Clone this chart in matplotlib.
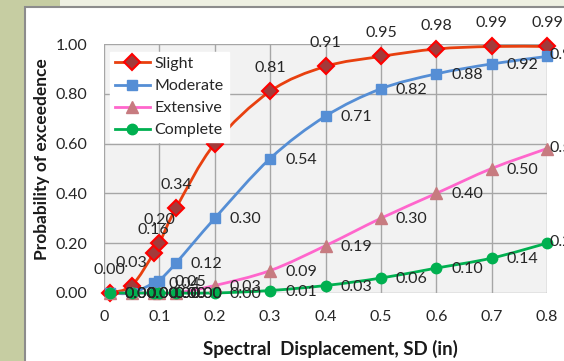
"""Fragility curves: probability of exceedence vs spectral displacement."""
import numpy as np
import matplotlib
matplotlib.use("Agg")
import matplotlib.pyplot as plt
from matplotlib.path import Path
from matplotlib.patches import PathPatch, Rectangle
from matplotlib.lines import Line2D

plt.rcParams['font.family'] = ['Lato', 'DejaVu Sans']

sd = [0.01, 0.05, 0.09, 0.10, 0.13, 0.20, 0.30, 0.40, 0.50, 0.60, 0.70, 0.80]
slight = [0.00, 0.03, 0.16, 0.20, 0.34, 0.60, 0.81, 0.91, 0.95, 0.98, 0.99, 0.99]
moderate = [0.00, 0.00, 0.04, 0.05, 0.12, 0.30, 0.54, 0.71, 0.82, 0.88, 0.92, 0.95]
extensive = [0.00, 0.00, 0.00, 0.00, 0.00, 0.03, 0.09, 0.19, 0.30, 0.40, 0.50, 0.58]
complete = [0.00, 0.00, 0.00, 0.00, 0.00, 0.00, 0.01, 0.03, 0.06, 0.10, 0.14, 0.20]

x_ticks = [0, 0.1, 0.2, 0.3, 0.4, 0.5, 0.6, 0.7, 0.8]
x_tick_labels = ['0', '0.1', '0.2', '0.3', '0.4', '0.5', '0.6', '0.7', '0.8']
y_ticks = [0, 0.2, 0.4, 0.6, 0.8, 1.0]


def smooth_path(x, y):
    # Excel-style smoothed line: Catmull-Rom segments as cubic Beziers
    p = np.column_stack([x, y])
    ext = np.vstack([p[0], p, p[-1]])
    verts = [p[0]]
    codes = [Path.MOVETO]
    for i in range(len(p) - 1):
        p0, p1, p2, p3 = ext[i], ext[i + 1], ext[i + 2], ext[i + 3]
        verts += [p1 + (p2 - p0) / 6, p2 - (p3 - p1) / 6, p2]
        codes += [Path.CURVE4] * 3
    return Path(verts, codes)


fig = plt.figure(figsize=(5.64, 3.61), dpi=100)
fig.patch.set_facecolor('#C6CDA2')
# pale strip along the top, then the white chart area with grey frame
fig.patches.append(Rectangle((60 / 564, 1 - 7 / 361), 1.0, 7 / 361,
                             transform=fig.transFigure, facecolor='#EEF0E2',
                             edgecolor='none', zorder=-2))
fig.patches.append(Rectangle((25 / 564, -0.1), 1.0, 1 - 7 / 361 + 0.1,
                             transform=fig.transFigure, facecolor='white',
                             edgecolor='#8C8C8C', linewidth=1.5, zorder=-1))

ax = fig.add_axes([104 / 564, 1 - 293 / 361, 443 / 564, 249 / 361])
ax.set_zorder(1)
ax.set_facecolor('#F2F2F2')
ax.set_xlim(0, 0.8)
ax.set_ylim(0, 1.0)
ax.set_xticks(x_ticks)
ax.set_xticklabels(x_tick_labels)
ax.set_yticks(y_ticks)
ax.set_yticklabels([f'{v:.2f}' for v in y_ticks])
ax.grid(True, color='#A6A6A6', linewidth=1.0)
ax.set_axisbelow(True)
for s in ax.spines.values():
    s.set_visible(False)
ax.tick_params(length=0, labelsize=11.5, colors='#262626', pad=12)

series = [
    ('Slight', slight, '#E8400F', dict(marker='D', ms=8, mfc='#A23B3B', mec='#FF0000', mew=1.5)),
    ('Moderate', moderate, '#558ED5', dict(marker='s', ms=6.5, mfc='#558ED5', mec='#558ED5')),
    ('Extensive', extensive, '#FF66CC', dict(marker='^', ms=9, mfc='#C77B80', mec='#C77B80')),
    ('Complete', complete, '#00B050', dict(marker='o', ms=7.5, mfc='#00B050', mec='#00B050')),
]

handles = []
for name, vals, col, mk in series:
    ax.add_patch(PathPatch(smooth_path(sd, vals), facecolor='none', edgecolor=col,
                           linewidth=2.0, zorder=3, clip_on=False))
    ax.plot(sd, vals, linestyle='none', zorder=4, clip_on=False, **mk)
    handles.append(Line2D([], [], color=col, linewidth=2.0, **mk))

# data labels (the last ones are pushed back inside the chart area, as Excel does)
for name, vals, col, mk in series:
    for i, (x, v) in enumerate(zip(sd, vals)):
        if name == 'Slight':
            off, ha = (0, 23), 'center'
        elif i == len(sd) - 1:
            off, ha = (2, 1), 'left'
        else:
            off, ha = (15, -1), 'left'
        ax.annotate(f'{v:.2f}', (x, v), xytext=off, textcoords='offset pixels',
                    ha=ha, va='center', fontsize=11.5, color='#262626',
                    annotation_clip=False, zorder=6)

leg = ax.legend(handles, [s[0] for s in series], loc='upper left',
                bbox_to_anchor=(0.0135, 0.968), borderaxespad=0, frameon=True,
                fancybox=False, edgecolor='white', framealpha=1.0, fontsize=11.5,
                handlelength=2.2, handletextpad=0.3, labelspacing=0.5,
                borderpad=0.3)
leg.set_zorder(10)
for t in leg.get_texts():
    t.set_color('#262626')

fig.text(42 / 564, 1 - 159 / 361, 'Probability of exceedence', rotation=90,
         ha='center', va='center', fontsize=12.5, fontweight='bold', color='#1A1A1A')
fig.text(330 / 564, 1 - 349 / 361, 'Spectral  Displacement, SD (in)',
         ha='center', va='center', fontsize=13.5, fontweight='bold', color='#1A1A1A')

fig.savefig('out.png', dpi=100, facecolor=fig.get_facecolor())
